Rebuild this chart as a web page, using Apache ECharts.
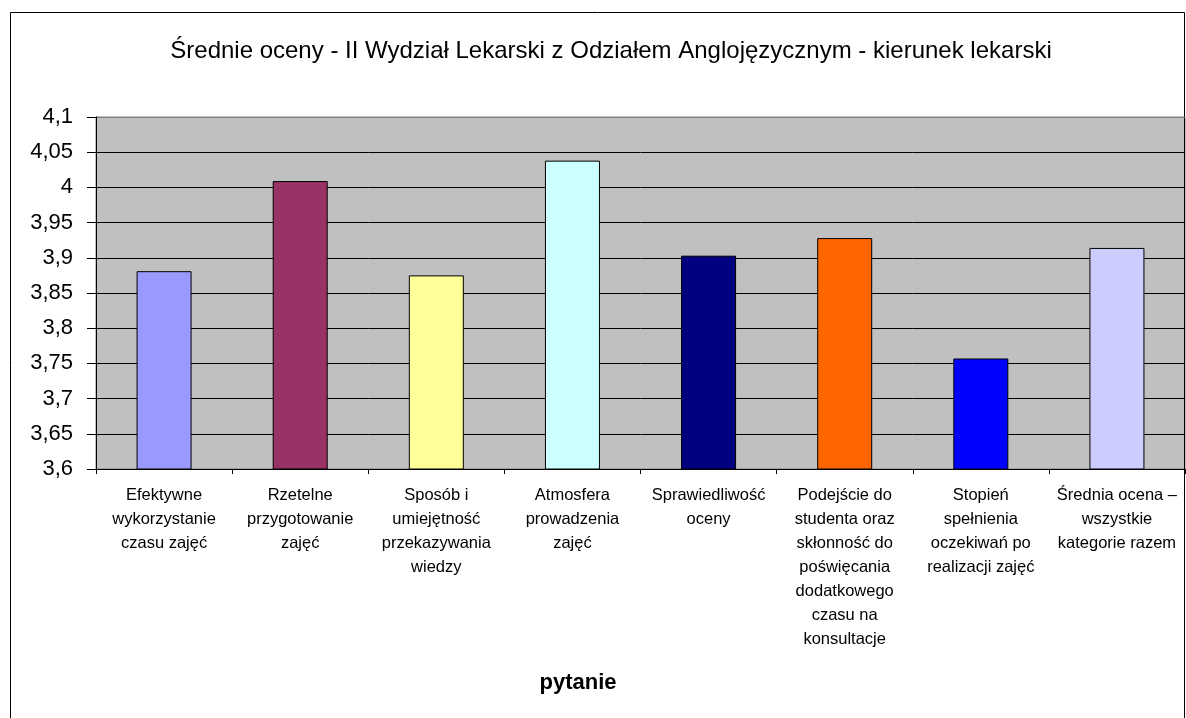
<!DOCTYPE html>
<html>
<head>
<meta charset="utf-8">
<script src="https://cdn.jsdelivr.net/npm/echarts@6/dist/echarts.min.js"></script>
<style>
  html, body { margin: 0; padding: 0; background: #fff; }
  #main { width: 1186px; height: 718px; }
</style>
</head>
<body>
<div id="main"></div>
<script>
    // pytania (kategorie osi X)
    const pytania = [
        'Efektywne\nwykorzystanie\nczasu zajęć',
        'Rzetelne\nprzygotowanie\nzajęć',
        'Sposób i\numiejętność\nprzekazywania\nwiedzy',
        'Atmosfera\nprowadzenia\nzajęć',
        'Sprawiedliwość\noceny',
        'Podejście do\nstudenta oraz\nskłonność do\npoświęcania\ndodatkowego\nczasu na\nkonsultacje',
        'Stopień\nspełnienia\noczekiwań po\nrealizacji zajęć',
        'Średnia ocena –\nwszystkie\nkategorie razem'
    ];
    // średnie oceny
    const oceny = [3.881, 4.009, 3.875, 4.038, 3.903, 3.928, 3.757, 3.914];
    const kolory = ['#9999FF', '#993366', '#FFFF99', '#CCFFFF', '#000080', '#FF6600', '#0000FF', '#CCCCFF'];

    const font = "'Liberation Sans', Arial, sans-serif";
    const myChart = echarts.init(document.getElementById('main'));

    // linie siatki czarne, górna krawędź (4,1) szara
    const kolorySiatki = ['#000', '#000', '#000', '#000', '#000', '#000',
        '#000', '#000', '#000', '#000', '#808080'];

    const option = {
        animation: false,
        backgroundColor: '#ffffff',
        title: {
            text: 'Średnie oceny - II Wydział Lekarski z Odziałem Anglojęzycznym - kierunek lekarski',
            left: 606,
            textAlign: 'center',
            top: 34,
            textStyle: {fontFamily: font, fontSize: 24, fontWeight: 'normal', color: '#000'}
        },
        grid: {
            left: 96, right: 1, top: 117, bottom: 249,
            show: true, backgroundColor: '#C0C0C0', borderColor: '#808080', borderWidth: 1
        },
        xAxis: {
            type: 'category',
            data: pytania,
            axisLine: {lineStyle: {color: '#000', width: 1}},
            axisTick: {show: true, length: 5, lineStyle: {color: '#000'}},
            axisLabel: {
                interval: 0, margin: 14, color: '#000',
                fontFamily: font, fontSize: 16.5, lineHeight: 24, align: 'center'
            }
        },
        yAxis: {
            type: 'value',
            min: 3.6, max: 4.1, interval: 0.05,
            axisLine: {show: true, lineStyle: {color: '#000'}},
            axisTick: {show: true, length: 9, lineStyle: {color: '#000'}},
            axisLabel: {
                margin: 23, color: '#000', fontFamily: font, fontSize: 22,
                formatter: function (v) { return String(+v.toFixed(2)).replace('.', ','); }
            },
            splitLine: {show: true, lineStyle: {color: kolorySiatki, width: 1}}
        },
        series: [{
            type: 'bar',
            barWidth: 55,
            data: oceny.map(function (v, i) {
                return {value: v, itemStyle: {color: kolory[i], borderColor: '#000', borderWidth: 1}};
            })
        }],
        graphic: [
            {
                type: 'rect', silent: true,
                shape: {x: 10.5, y: 12.5, width: 1174, height: 720},
                style: {fill: 'none', stroke: '#000', lineWidth: 1}
            },
            {
                type: 'text', x: 578, y: 683,
                style: {
                    text: 'pytanie', fill: '#000', font: 'bold 22px ' + font,
                    textAlign: 'center', textVerticalAlign: 'middle'
                }
            }
        ]
    };
    myChart.setOption(option);
</script>
</body>
</html>
